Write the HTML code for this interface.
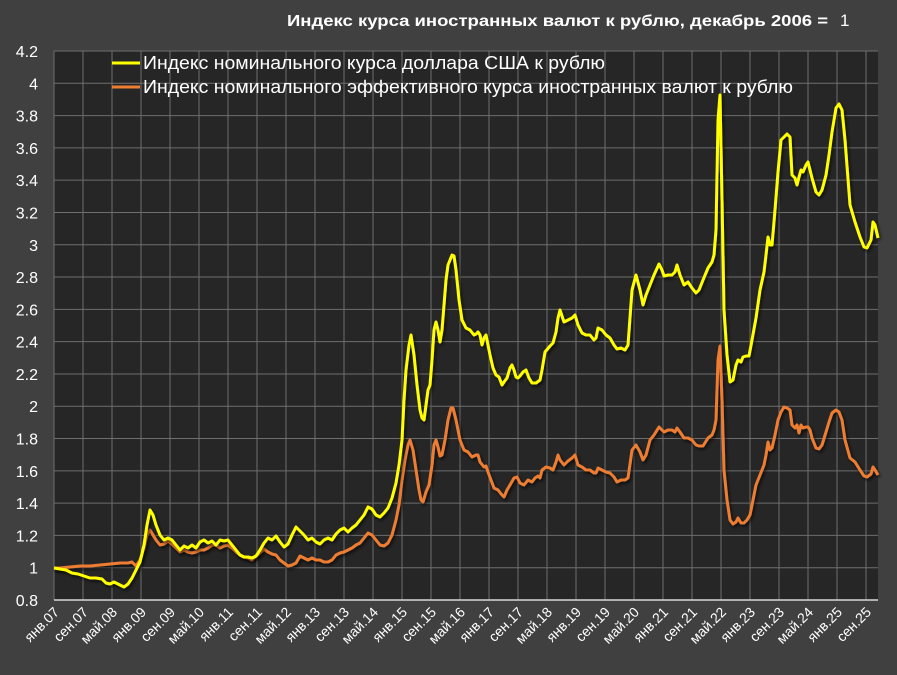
<!DOCTYPE html>
<html><head><meta charset="utf-8"><style>
html,body{margin:0;padding:0;background:#404040;}
svg{display:block;font-family:"Liberation Sans","DejaVu Sans",sans-serif;}
</style></head><body>
<svg width="897" height="675" viewBox="0 0 897 675" xmlns="http://www.w3.org/2000/svg">
<defs><filter id="sh" x="-5%" y="-5%" width="110%" height="110%"><feDropShadow dx="1.5" dy="2" stdDeviation="1.5" flood-color="#000" flood-opacity="0.7"/></filter></defs>
<rect width="897" height="675" fill="#404040"/>
<rect x="54" y="51" width="824" height="549" fill="#262626"/>
<g id="grid" stroke="#6e6e6e" stroke-width="1"></g>
<line x1="54" y1="600" x2="878" y2="600" stroke="#d9d9d9" stroke-width="1.5"/>
<g id="ylab" fill="#fff" font-size="16" text-anchor="end"></g>
<g id="xlab" fill="#fff" font-size="14" text-anchor="end"></g>
<text x="287" y="26" fill="#fff" font-size="16" font-weight="bold" textLength="541" lengthAdjust="spacingAndGlyphs">Индекс курса иностранных валют к рублю, декабрь 2006 =</text>
<text x="840" y="26" fill="#fff" font-size="17">1</text>
<line x1="112" y1="63" x2="140" y2="63" stroke="#ffff00" stroke-width="3"/>
<text x="143" y="69" fill="#fff" font-size="18" textLength="462" lengthAdjust="spacingAndGlyphs">Индекс номинального курса доллара США к рублю</text>
<line x1="112" y1="87" x2="140" y2="87" stroke="#ed7d31" stroke-width="3"/>
<text x="143" y="93" fill="#fff" font-size="18" textLength="650" lengthAdjust="spacingAndGlyphs">Индекс номинального эффективного курса иностранных валют к рублю</text>
<polyline filter="url(#sh)" fill="none" stroke="#ed7d31" stroke-width="3" stroke-linejoin="round" points="54,568 60,568 70,567 80,566 90,566 100,565 110,564 120,563 128,563 132,562 136,566 140,560 144,548 147,535 150,530 153,535 156,540 160,545 164,544 168,541 172,544 176,548 180,552 184,550 188,552 192,553 196,552 200,550 204,550 208,548 212,545 216,545 220,548 224,546 228,545 232,548 236,552 240,555 244,557 248,558 252,560 256,556 260,553 264,549 268,552 272,554 276,555 280,560 284,563 288,566 292,565 296,563 300,556 304,558 308,560 312,558 316,560 320,560 324,562 328,562 332,560 336,555 340,553 344,552 348,550 352,548 356,545 360,543 364,538 368,533 372,535 376,540 380,545 384,546 388,543 392,535 396,520 399,505 402,480 405,460 408,445 410,440 413,450 416,470 419,490 421,500 423,502 426,492 429,485 432,465 434,445 436,440 438,447 440,456 442,455 445,440 448,420 451,408 453,408 456,420 460,440 464,450 468,452 472,457 476,455 478,455 480,462 484,467 486,466 488,472 491,480 494,488 498,490 502,495 504,497 507,490 510,485 514,478 517,477 520,483 524,485 528,480 532,482 535,478 538,476 540,478 542,470 546,467 550,468 553,470 556,462 558,455 560,460 564,465 568,461 572,458 575,455 578,465 582,467 586,470 590,470 594,473 596,473 598,468 602,470 606,472 610,473 614,477 617,482 621,480 625,480 628,478 632,450 636,445 640,452 643,460 646,455 650,440 654,435 659,427 662,430 664,432 668,430 672,430 675,432 677,428 680,432 684,438 688,438 692,440 696,445 699,446 703,446 708,438 712,435 714,430 716,420 718,360 720,346 722,400 724,470 727,500 730,520 733,524 736,522 738,518 741,523 744,523 747,520 750,515 753,500 756,485 760,475 764,465 766,455 768,442 770,450 772,448 775,435 778,420 781,412 784,407 787,408 790,410 792,425 795,428 797,425 799,433 801,425 803,428 806,427 808,427 810,430 812,438 816,448 819,449 822,445 826,432 829,422 832,413 836,410 839,412 842,420 845,440 850,458 855,462 860,470 864,476 867,477 871,474 873,467 875,470 878,475"/>
<polyline filter="url(#sh)" fill="none" stroke="#ffff00" stroke-width="3" stroke-linejoin="round" points="54,568 60,569 66,570 72,573 78,574 84,576 90,578 96,578 102,579 106,583 110,584 114,582 118,584 122,586 124,587 128,584 132,578 136,570 140,562 144,545 147,525 150,510 153,515 156,525 160,535 164,540 168,538 172,540 176,545 180,550 184,546 188,548 192,545 196,548 200,542 204,540 208,543 212,541 216,545 220,540 224,541 228,540 232,545 236,550 240,555 244,557 248,557 252,558 256,556 260,550 264,543 268,538 272,540 276,536 280,542 284,547 288,544 292,535 296,527 300,531 304,535 308,540 312,538 316,542 320,544 324,540 328,538 332,540 336,534 340,530 344,528 348,532 352,528 356,525 360,520 364,515 368,507 372,509 376,515 380,517 384,513 388,508 392,498 396,483 399,465 402,440 404,400 406,370 409,345 411,335 414,355 417,385 420,410 422,418 424,420 426,405 428,390 430,385 432,360 434,330 436,322 438,330 440,342 442,330 444,305 446,280 448,265 452,255 454,256 456,270 459,300 462,320 466,328 470,330 474,335 476,334 478,332 480,335 482,345 484,338 486,335 488,345 490,355 493,368 496,375 499,377 502,385 504,382 507,378 510,368 512,365 514,370 516,377 518,378 520,376 523,372 526,370 529,378 532,383 536,383 540,380 542,370 545,352 550,346 553,343 556,332 558,318 560,310 564,322 568,320 572,318 575,315 578,325 582,333 586,335 590,335 594,340 596,338 598,328 602,330 606,335 610,338 614,345 617,349 621,348 625,350 628,345 632,290 636,275 640,290 643,305 646,295 650,285 654,275 659,264 662,270 664,276 668,275 672,275 675,272 677,265 680,275 684,285 688,282 692,288 696,293 699,290 703,280 708,268 712,262 714,255 716,230 718,120 720,95 722,200 724,310 727,355 730,382 733,380 736,365 738,360 741,362 743,357 746,356 749,356 752,340 756,318 760,290 764,272 766,255 768,237 770,245 772,245 775,210 778,172 781,140 784,137 787,134 790,137 792,175 795,178 797,185 799,177 801,170 803,172 806,165 808,162 810,170 812,178 816,192 819,195 822,190 826,175 829,155 832,132 836,108 839,104 842,110 845,140 850,205 855,222 860,237 864,247 867,248 871,240 873,222 875,225 878,238"/>
<script>
var ns="http://www.w3.org/2000/svg",g=document.getElementById("grid"),yl=document.getElementById("ylab"),xl=document.getElementById("xlab");
for(var i=0;i<=17;i++){var v=0.8+i*0.2,y=600-i*549/17;
 if(i>0){var l=document.createElementNS(ns,"line");l.setAttribute("x1",54);l.setAttribute("x2",878);l.setAttribute("y1",y);l.setAttribute("y2",y);g.appendChild(l);}
 var t=document.createElementNS(ns,"text");t.setAttribute("x",38);t.setAttribute("y",y+6);t.textContent=(Math.round(v*10)/10).toString();yl.appendChild(t);}
var mo=["янв.","сен.","май."];
for(var k=0;k<29;k++){var x=54+k*29;
 var l=document.createElementNS(ns,"line");l.setAttribute("x1",x);l.setAttribute("x2",x);l.setAttribute("y1",51);l.setAttribute("y2",600);g.appendChild(l);
 var m=k%3; var yy=7+Math.floor((k*8)/12); var s=mo[m]+(yy<10?"0":"")+yy;
 var t=document.createElementNS(ns,"text");t.setAttribute("transform","translate("+(x+6)+",613) rotate(-45)");t.textContent=s;xl.appendChild(t);}
</script>
</svg>
</body></html>
